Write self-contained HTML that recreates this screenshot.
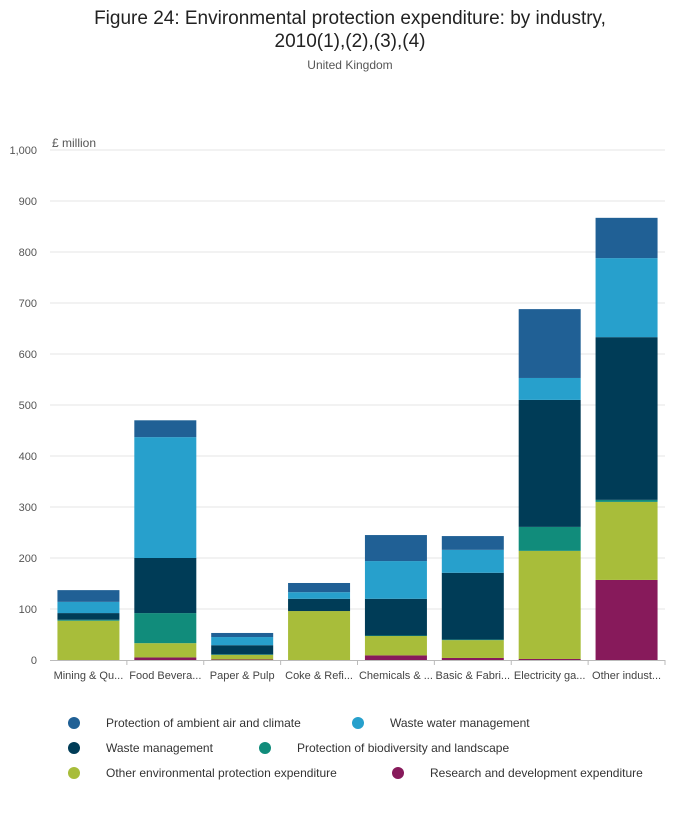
<!DOCTYPE html>
<html><head><meta charset="utf-8"><style>
body{margin:0;background:#fff;font-family:"Liberation Sans",sans-serif;}
svg text{font-family:"Liberation Sans",sans-serif;}
</style></head><body>
<svg width="700" height="810" xmlns="http://www.w3.org/2000/svg">
<text x="350" y="24" text-anchor="middle" font-size="19" fill="#222">Figure 24: Environmental protection expenditure: by industry,</text>
<text x="350" y="47" text-anchor="middle" font-size="19" fill="#222">2010(1),(2),(3),(4)</text>
<text x="350" y="69" text-anchor="middle" font-size="12" fill="#555">United Kingdom</text>
<text x="52" y="147" font-size="12" fill="#555">£ million</text>
<g id="grid"></g><g id="bars"></g><g id="xl"></g><g id="legend"></g>
</svg>
<script>
const categories=["Mining & Qu...","Food Bevera...","Paper & Pulp","Coke & Refi...","Chemicals & ...","Basic & Fabri...","Electricity ga...","Other indust..."];
const seriesNames=["Research and development expenditure","Other environmental protection expenditure","Protection of biodiversity and landscape","Waste management","Waste water management","Protection of ambient air and climate"];
const rd=[0,5,1,0,9,4,2,157];
const otherEp=[77,28,9,96,38,35,212,153];
const biodiv=[2,59,1,0,1,1,47,4];
const waste=[13,108,18,24,72,131,249,319];
const wasteWater=[22,237,16,13,74,45,43,155];
const air=[23,33,8,18,51,27,135,79];
const yTicks=[0,100,200,300,400,500,600,700,800,900,1000];
const yTickLabels=["0","100","200","300","400","500","600","700","800","900","1,000"];
const colors=["#871a5b","#a8bd3a","#118c7b","#003c57","#27a0cc","#206095"];
const NS="http://www.w3.org/2000/svg";
const x0=50,x1=665,y0=660,yTop=150;
const y=v=>y0-(v/1000)*(y0-yTop);
const band=(x1-x0)/categories.length;
const xc=i=>x0+band*(i+0.5);
function mk(t,a,p){const e=document.createElementNS(NS,t);for(const k in a)e.setAttribute(k,a[k]);p.appendChild(e);return e;}
const g=document.getElementById('grid');
yTicks.forEach((v,i)=>{
 if(v>0){const l=mk('line',{x1:x0,x2:x1,y1:y(v),y2:y(v),stroke:'#e4e4e4'},g);
 
 }
 const t=mk('text',{x:37,y:y(v)+4,'text-anchor':'end','font-size':11,fill:'#555'},g);t.textContent=yTickLabels[i];
 
 
});
const ax=mk('line',{x1:x0,x2:x1,y1:y0+0.5,y2:y0+0.5,stroke:'#bbb'},g);


const series=[rd,otherEp,biodiv,waste,wasteWater,air];
const bg=document.getElementById('bars');
categories.forEach((c,i)=>{
 let acc=0;
 series.forEach((s,k)=>{
  const v=s[i];if(v<=0)return;
  const r=mk('rect',{x:xc(i)-31,width:62,y:y(acc+v),height:y(acc)-y(acc+v),fill:colors[k]},bg);
  
  
  acc+=v;
 });
 const tk=mk('line',{x1:x0+band*(i+1),x2:x0+band*(i+1),y1:y0,y2:y0+5,stroke:'#bbb'},bg);
 
 
 const t=mk('text',{x:xc(i),y:679,'text-anchor':'middle','font-size':11,fill:'#444'},document.getElementById('xl'));
 t.textContent=c;
 
 
});
const lg=document.getElementById('legend');
const legendOrder=[5,4,3,2,1,0];
const lpos=[[74,724],[358,724],[74,749],[265,749],[74,774],[398,774]];
legendOrder.forEach((k,j)=>{
 const [lx,ly]=lpos[j];
 const c=mk('circle',{cx:lx,cy:ly-1,r:6,fill:colors[k]},lg);
 
 
 const t=mk('text',{x:lx+32,y:ly+3,'font-size':12,fill:'#333'},lg);t.textContent=seriesNames[k];
 
 
});
</script>
</body></html>
